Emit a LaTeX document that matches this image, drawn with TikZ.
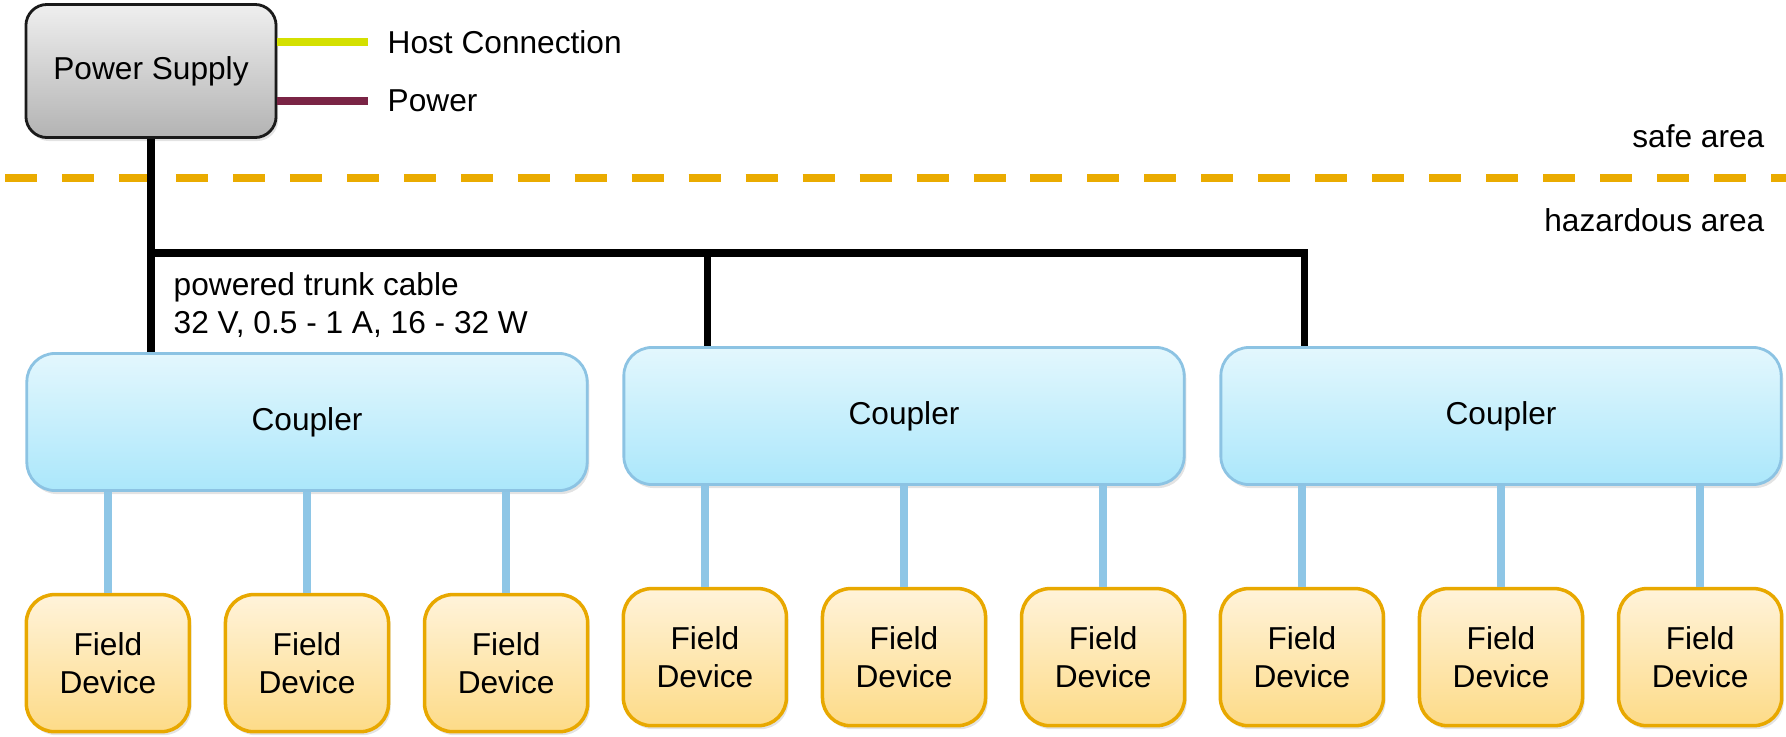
\documentclass[tikz,border=0pt]{standalone}
\usepackage{fontspec}
\setmainfont{Liberation Sans}
\usepackage{tikz}
\usetikzlibrary{positioning,calc,shadows}
\definecolor{hostline}{HTML}{D4E000}
\definecolor{powerline}{HTML}{7A2445}
\definecolor{zoneline}{HTML}{EAAB00}
\definecolor{psborder}{HTML}{1A1A1A}
\definecolor{pstop}{HTML}{EFEFEF}
\definecolor{psbot}{HTML}{B3B3B3}
\definecolor{cpltop}{HTML}{E3F7FD}
\definecolor{cplbot}{HTML}{ABE7FB}
\definecolor{cpldraw}{HTML}{8CC3E3}
\definecolor{fdtop}{HTML}{FFF3DA}
\definecolor{fdbot}{HTML}{FDDB88}
\definecolor{fddraw}{HTML}{E8A800}
\definecolor{spurline}{HTML}{8EC6E6}
\tikzset{
  % --- boxes ---
  boxshadow/.style={drop shadow={opacity=0.22, shadow xshift=0.6pt,
                    shadow yshift=-1pt}},
  supply/.style={draw=psborder, line width=0.8pt, rounded corners=6pt,
                 top color=pstop, bottom color=psbot, align=center,
                 minimum width=2.5cm, minimum height=1.33cm, boxshadow},
  coupler/.style={draw=cpldraw, line width=0.8pt, rounded corners=8pt,
                  top color=cpltop, bottom color=cplbot,
                  minimum width=5.6cm, minimum height=1.37cm, boxshadow},
  fielddev/.style={draw=fddraw, line width=1pt, rounded corners=8pt,
                   top color=fdtop, bottom color=fdbot, align=center,
                   minimum width=1.63cm, minimum height=1.37cm, boxshadow},
  % --- cables ---
  trunk/.style={line width=2pt, draw=black},
  spur/.style={line width=2.2pt, draw=spurline},
  legendline/.style={line width=2pt},
  zone/.style={draw=zoneline, line width=2.3pt,
               dash pattern=on 9.1pt off 7.1pt},
  lbl/.style={inner sep=0pt},
}

\begin{document}
\begin{tikzpicture}[x=0.01cm, y=-0.01cm, font=\fontsize{9}{10.6}\selectfont]
  \useasboundingbox (0,0) rectangle (1786,736);

  % --- power supply with legend ---
  \node[supply] (ps) at (151,71) {Power Supply};
  \node[lbl, anchor=west] (hostlbl) at (387,42) {Host Connection};
  \node[lbl, anchor=west] (powlbl)  at (387,101) {Power};
  \draw[legendline, draw=hostline]  (ps.east |- hostlbl) -- ([xshift=-0.19cm]hostlbl.west);
  \draw[legendline, draw=powerline] (ps.east |- powlbl)  -- ([xshift=-0.19cm]powlbl.west);

  % --- zone boundary ---
  \coordinate (zoneW) at (5,178);
  \coordinate (zoneE) at (1786,178);
  \draw[zone] (zoneW) -- (zoneE);
  \node[lbl, anchor=east] (safe) at (1765,136) {safe area};
  \node[lbl, anchor=east] (haz)  at (1765,220) {hazardous area};

  % --- couplers ---
  \node[coupler] (cp1) at (307,422)  {Coupler};
  \node[coupler] (cp2) at (904,416)  {Coupler};
  \node[coupler] (cp3) at (1501,416) {Coupler};

  % --- powered trunk, tapped off to each coupler ---
  \coordinate (tap) at (152,253);
  \coordinate (drop2) at ([xshift=0.85cm]cp2.north west);
  \coordinate (drop3) at ([xshift=0.85cm]cp3.north west);
  \draw[trunk] (ps.south) -- (ps.south |- cp1.north);
  \draw[trunk] (ps.south |- tap) -| (drop3);
  \draw[trunk] (drop2 |- tap) -- (drop2);
  \node[lbl, anchor=base west] (trunklbl)  at (173,295) {powered trunk cable};
  \node[lbl, anchor=base west] (ratinglbl) at (173,333) {32 V, 0.5 - 1 A, 16 - 32 W};

  % --- field devices on spurs (three per coupler) ---
  \foreach \c in {1,2,3} {
    \foreach \k/\dx in {a/-1.99, b/0, c/1.99} {
      \node[fielddev] (fd\c\k) at ([xshift=\dx cm, yshift=-2.41cm]cp\c.center) {Field\\Device};
      \draw[spur] (cp\c.south -| fd\c\k.north) -- (fd\c\k.north);
    }
  }
\end{tikzpicture}
\end{document}
